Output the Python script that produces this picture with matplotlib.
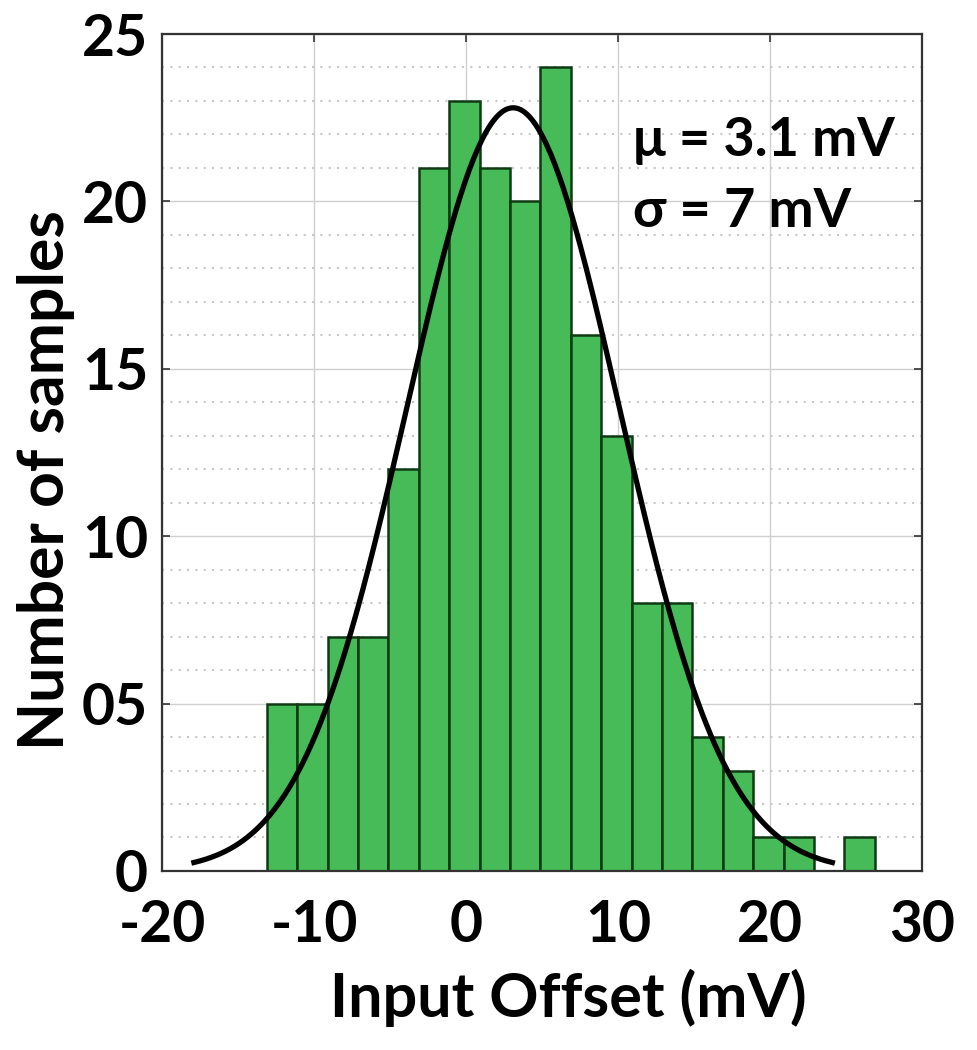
import numpy as np
import matplotlib
matplotlib.use('Agg')
import matplotlib.pyplot as plt
from matplotlib.ticker import MultipleLocator

# histogram data
bin_start = -13.1
bin_width = 2.0
counts = [5, 5, 7, 7, 12, 21, 23, 21, 20, 24, 16, 13, 8, 8, 4, 3, 1, 1, 0, 1]

mu = 3.1
sigma = 7.0

x_ticks = [-20, -10, 0, 10, 20, 30]
y_ticks = [0, 5, 10, 15, 20, 25]
y_ticklabels = ['0', '05', '10', '15', '20', '25']

plt.rcParams['font.family'] = ['Lato', 'DejaVu Sans']
plt.rcParams['font.weight'] = 'bold'
plt.rcParams['axes.unicode_minus'] = False

fig = plt.figure(figsize=(9.77, 10.5), dpi=100)
ax = fig.add_axes([0.1658, 0.1705, 0.7779, 0.7971])

edges = bin_start + bin_width * np.arange(len(counts) + 1)
lefts = edges[:-1]
ax.bar(lefts, counts, width=bin_width, align='edge',
       color='#46bb58', edgecolor='#0f3a14', linewidth=1.8, zorder=2)

# fitted normal curve
n_total = sum(counts)
xc = np.linspace(mu - 3 * sigma, mu + 3 * sigma, 300)
yc = n_total * bin_width / (sigma * np.sqrt(2 * np.pi)) * np.exp(-0.5 * ((xc - mu) / sigma) ** 2)
ax.plot(xc, yc, color='black', linewidth=3.8, zorder=3)

ax.set_xlim(-20, 30)
ax.set_ylim(0, 25)
ax.set_xticks(x_ticks)
ax.set_yticks(y_ticks)
ax.set_yticklabels(y_ticklabels)
ax.yaxis.set_minor_locator(MultipleLocator(1))

ax.grid(True, which='major', color='#d0d0d0', linewidth=1.0, zorder=0)
ax.grid(True, which='minor', axis='y', color='#c8c8c8', linestyle=(0, (1, 3)),
        linewidth=1.5, zorder=0)
ax.set_axisbelow(True)

ax.tick_params(which='major', direction='in', length=6, width=1.2,
               top=True, right=True, labelsize=41, colors='#333333',
               labelcolor='black')
ax.tick_params(axis='x', which='major', pad=20)
ax.tick_params(axis='y', which='major', pad=10)
ax.tick_params(which='minor', length=0)
for sp in ax.spines.values():
    sp.set_color('#333333')
    sp.set_linewidth(1.6)

for lab in ax.get_xticklabels() + ax.get_yticklabels():
    lab.set_fontweight('bold')

ax.set_xlabel('Input Offset (mV)', fontsize=44, fontweight='bold')
ax.set_ylabel('Number of samples', fontsize=45, fontweight='bold')
ax.xaxis.set_label_coords(0.534, -0.117)
ax.yaxis.set_label_coords(-0.114, 0.467)

ax.text(0.62, 0.873, 'μ = 3.1 mV', transform=ax.transAxes, fontsize=39,
        fontweight='bold', va='center', ha='left', zorder=4)
ax.text(0.62, 0.788, 'σ = 7 mV', transform=ax.transAxes, fontsize=39,
        fontweight='bold', va='center', ha='left', zorder=4)

fig.savefig('out.png', dpi=100)
